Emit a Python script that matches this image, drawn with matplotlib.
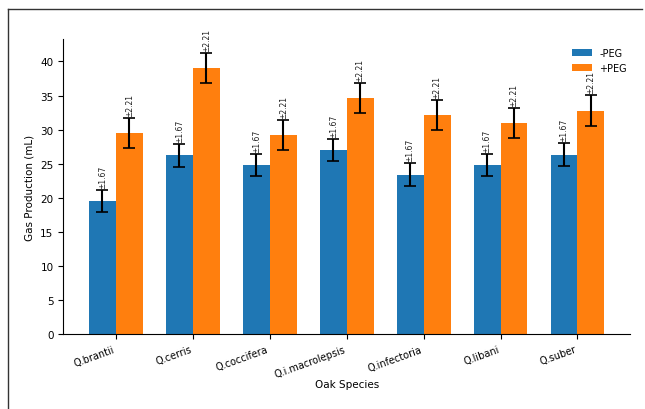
import matplotlib.pyplot as plt
import numpy as np
from matplotlib.lines import Line2D

species = ['Q.brantii', 'Q.cerris', 'Q.coccifera', 'Q.i.macrolepsis',
           'Q.infectoria', 'Q.libani', 'Q.suber']
no_peg = [19.5, 26.2, 24.8, 27.0, 23.4, 24.8, 26.3]
with_peg = [29.5, 39.0, 29.2, 34.6, 32.1, 31.0, 32.8]
no_peg_err = 1.67
with_peg_err = 2.21

fig = plt.figure(figsize=(6.45, 4.10), dpi=100)
ax = fig.add_axes([0.098, 0.183, 0.879, 0.719])

x = np.arange(len(species))
width = 0.35

ax.bar(x - width / 2, no_peg, width, color='#1f77b4', label='-PEG',
       yerr=no_peg_err, capsize=4, error_kw={'elinewidth': 1.5, 'capthick': 1.2})
ax.bar(x + width / 2, with_peg, width, color='#ff7f0e', label='+PEG',
       yerr=with_peg_err, capsize=4, error_kw={'elinewidth': 1.5, 'capthick': 1.2})

# error value labels above each bar
for xi, v in zip(x - width / 2, no_peg):
    ax.text(xi, v + no_peg_err + 0.3, '±%.2f' % no_peg_err, rotation=90,
            ha='center', va='bottom', fontsize=5.5, color='#222222')
for xi, v in zip(x + width / 2, with_peg):
    ax.text(xi, v + with_peg_err + 0.3, '±%.2f' % with_peg_err, rotation=90,
            ha='center', va='bottom', fontsize=5.5, color='#222222')

ax.set_xticks(x)
ax.set_xticklabels(species, rotation=20, ha='right', fontsize=7)
ax.tick_params(axis='y', labelsize=7.5)
ax.set_ylabel('Gas Production (mL)', fontsize=7.5)
ax.set_xlabel('Oak Species', fontsize=7.5, labelpad=0)
ax.spines['top'].set_visible(False)
ax.spines['right'].set_visible(False)
ax.legend(loc='upper right', bbox_to_anchor=(1.01, 1.0), frameon=False,
          fontsize=7)

# outer frame lines
fig.add_artist(Line2D([8 / 645, 642 / 645], [1 - 10 / 410, 1 - 10 / 410],
                      transform=fig.transFigure, color='#333333', lw=1))
fig.add_artist(Line2D([8 / 645, 8 / 645], [0, 1 - 10 / 410],
                      transform=fig.transFigure, color='#333333', lw=1))

fig.savefig('out.png', dpi=100)
